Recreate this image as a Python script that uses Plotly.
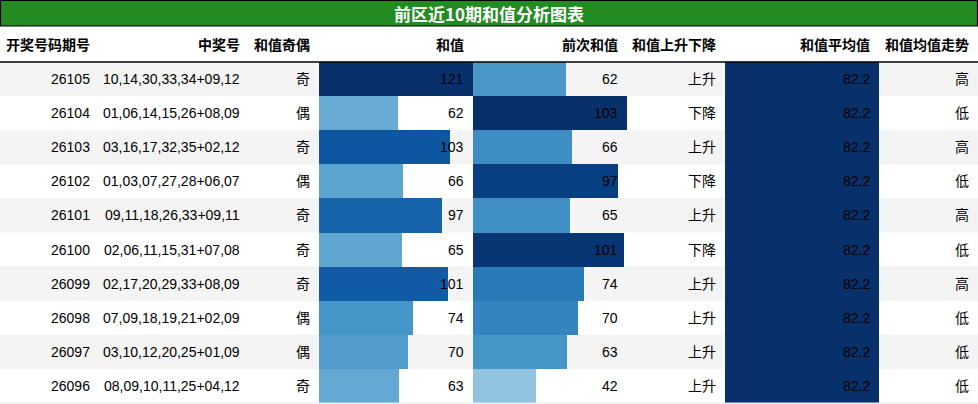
import plotly.graph_objects as go
from plotly.colors import sample_colorscale

# 表格数据
title = "前区近10期和值分析图表"
headers = ["开奖号码期号", "中奖号", "和值奇偶", "和值", "前次和值", "和值上升下降", "和值平均值", "和值均值走势"]
periods = ["26105", "26104", "26103", "26102", "26101", "26100", "26099", "26098", "26097", "26096"]
numbers = ["10,14,30,33,34+09,12", "01,06,14,15,26+08,09", "03,16,17,32,35+02,12",
           "01,03,07,27,28+06,07", "09,11,18,26,33+09,11", "02,06,11,15,31+07,08",
           "02,17,20,29,33+08,09", "07,09,18,19,21+02,09", "03,10,12,20,25+01,09",
           "08,09,10,11,25+04,12"]
parity = ["奇", "偶", "奇", "偶", "奇", "奇", "奇", "偶", "偶", "奇"]
sums = [121, 62, 103, 66, 97, 65, 101, 74, 70, 63]
prev_sums = [62, 103, 66, 97, 65, 101, 74, 70, 63, 42]
updown = ["上升", "下降", "上升", "下降", "上升", "下降", "上升", "上升", "上升", "上升"]
avg_sum = [82.2] * 10
trend = ["高", "低", "高", "低", "高", "低", "高", "低", "低", "低"]

# 版面 (像素)
W, H = 978, 404
col_edges = [0, 99, 249, 319, 473, 627, 725, 879, 978]
title_h, header_bottom, table_bottom = 26, 62, 403
pad = 7
font_fam = "Liberation Sans, Noto Sans CJK SC, sans-serif"
cjk_bold = "Noto Sans CJK SC, sans-serif"

n = len(periods)
rows = list(range(n))


def blues(vals):
    m = max(vals)
    return sample_colorscale("Blues", [v / m for v in vals])


fig = go.Figure()

# 数据条: 和值, 前次和值, 和值平均值
bar_cols = [(3, sums, "x2"), (4, prev_sums, "x3"), (6, avg_sum, "x4")]
for ci, vals, xa in bar_cols:
    fig.add_trace(go.Bar(
        x=vals, y=rows, base=0, orientation="h", width=1,
        marker=dict(color=blues(vals), line=dict(width=0)),
        xaxis=xa, yaxis="y2", showlegend=False, hoverinfo="skip"
    ))

layout = dict(
    width=W, height=H, margin=dict(l=0, r=0, t=0, b=0),
    paper_bgcolor="white", plot_bgcolor="rgba(0,0,0,0)",
    xaxis=dict(range=[0, W], visible=False, domain=[0, 1]),
    yaxis=dict(range=[H, 0], visible=False, domain=[0, 1]),
    yaxis2=dict(range=[n - 0.5, -0.5], visible=False,
                domain=[1 - table_bottom / H, 1 - header_bottom / H]),
    bargap=0,
)
for ci, vals, xa in bar_cols:
    key = "xaxis" + xa[1:]
    layout[key] = dict(range=[0, max(vals)], visible=False, anchor="y2",
                       domain=[col_edges[ci] / W, col_edges[ci + 1] / W])
fig.update_layout(**layout)

# 隔行底色
for i in rows:
    if i % 2 == 0:
        fig.add_shape(type="rect", xref="x", yref="y2", x0=0, x1=W, y0=i - 0.5, y1=i + 0.5,
                      fillcolor="#f4f4f4", line_width=0, layer="below")

# 标题栏
fig.add_shape(type="rect", xref="x", yref="y", x0=0.5, x1=W - 0.5, y0=0.5, y1=title_h,
              fillcolor="#228b22", line=dict(color="black", width=1.2))
fig.add_annotation(x=W / 2, y=title_h / 2 + 0.5, xref="x", yref="y", text="<b>" + title + "</b>",
                   showarrow=False, font=dict(family=cjk_bold, size=17, color="white"))

# 表头
for ci, h in enumerate(headers):
    fig.add_annotation(x=col_edges[ci + 1] - pad, y=(title_h + header_bottom) / 2, xref="x", yref="y",
                       text="<b>" + h + "</b>", showarrow=False, xanchor="right",
                       font=dict(family=cjk_bold, size=14, color="black"))
fig.add_shape(type="line", xref="x", yref="y", x0=0, x1=W, y0=header_bottom, y1=header_bottom,
              line=dict(color="black", width=1.3))
fig.add_shape(type="line", xref="x", yref="y", x0=0, x1=W, y0=table_bottom, y1=table_bottom,
              line=dict(color="#e6e6e6", width=1))

# 单元格文字
columns = [periods, numbers, parity, sums, prev_sums, updown,
           ["%.1f" % v for v in avg_sum], trend]
for ci, col in enumerate(columns):
    for i, v in enumerate(col):
        fig.add_annotation(x=col_edges[ci + 1] - pad, y=i, xref="x", yref="y2", text=str(v),
                           showarrow=False, xanchor="right",
                           font=dict(family=font_fam, size=14, color="black"))

# 去掉页面默认边距和工具栏
fig.write_html("out.html", config={"displayModeBar": False, "staticPlot": True},
               post_script="document.body.style.margin='0';document.body.style.overflow='hidden';")
